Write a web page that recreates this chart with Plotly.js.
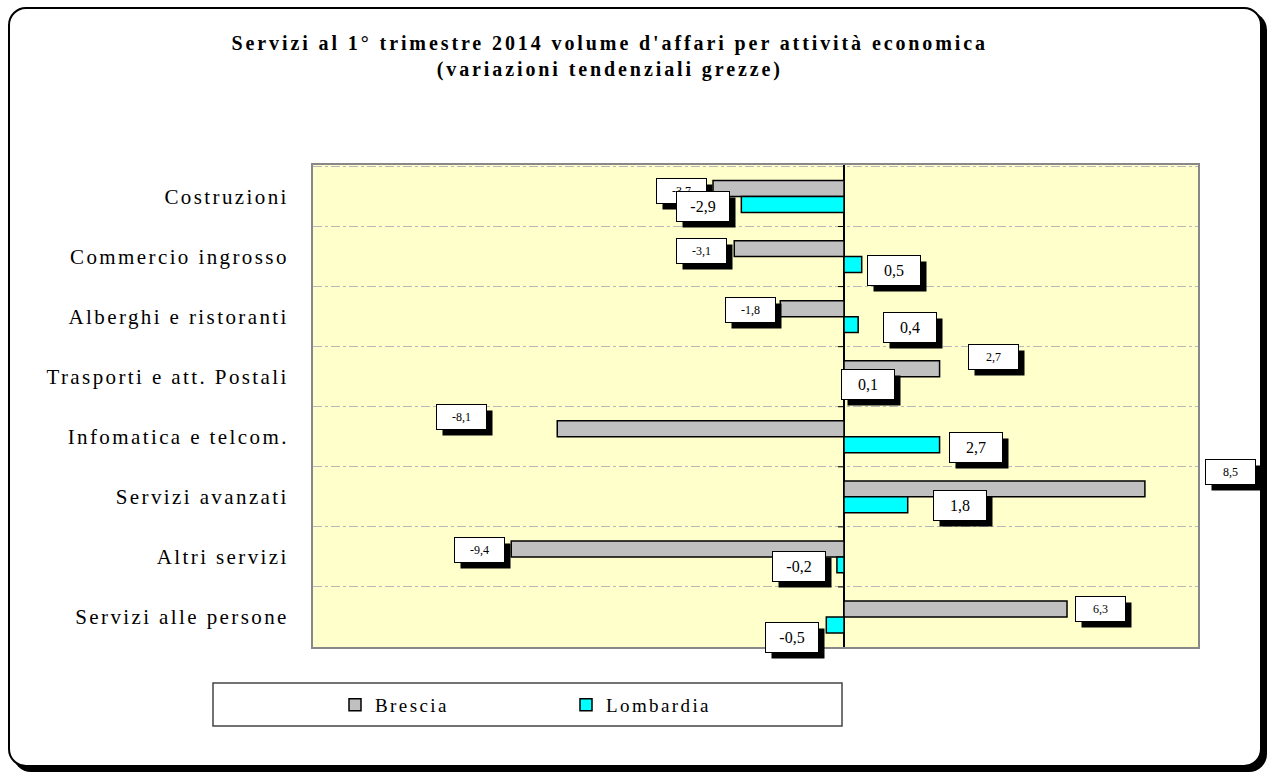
<!DOCTYPE html>
<html>
<head>
<meta charset="utf-8">
<script src="https://cdn.plot.ly/plotly-3.0.1.min.js"></script>
<style>
  html, body { margin: 0; padding: 0; background: #ffffff; }
  #frame { position: absolute; left: 8px; top: 7px; width: 1250px; height: 756px;
           border: 2px solid #000; border-radius: 18px; box-shadow: 5px 5px 0 #000; background: #fff; }
  #chart { position: absolute; left: 0; top: 0; width: 1273px; height: 774px; }
  #chart .ytick text { letter-spacing: 2.4px; }
  #chart .gtitle { letter-spacing: 2.9px; }
  #chart .legendtext { letter-spacing: 2.4px; }
</style>
</head>
<body>
<div id="frame"></div>
<div id="chart"></div>
<script>
// ---- data ----
const categories = ["Costruzioni", "Commercio ingrosso", "Alberghi e ristoranti", "Trasporti e att. Postali",
                    "Infomatica e telcom.", "Servizi avanzati", "Altri servizi", "Servizi alle persone"];
const brescia = [-3.7, -3.1, -1.8, 2.7, -8.1, 8.5, -9.4, 6.3];
const lombardia = [-2.9, 0.5, 0.4, 0.1, 2.7, 1.8, -0.2, -0.5];
const seriesNames = ["Brescia", "Lombardia"];

// ---- label placement (pixel offsets of label box centre from bar end / category centre) ----
const bresciaLabelOffsets = [[-32,-6],[-33,-6],[-30,-7],[54,-20],[-96,-20],[86,-25],[-32,-7],[33,-8]];
const lombardiaLabelOffsets = [[-38,10],[32,14],[52,11],[20,8],[36,11],[52,9],[-38,10],[-34,21]];

const W = 1273, H = 774;
const M = {l: 313, r: 75, t: 165, b: 127};
const pw = W - M.l - M.r, ph = H - M.t - M.b;
const px = x => (x - M.l) / pw;
const py = y => (H - M.b - y) / ph;

const fmt = v => v.toFixed(1).replace('.', ',');
const serif = "Liberation Serif, Times New Roman, serif";

const traces = [
  {type: 'bar', orientation: 'h', name: seriesNames[0], y: categories, x: brescia,
   marker: {color: '#c0c0c0', line: {color: '#000', width: 1.5}}, hoverinfo: 'x+y'},
  {type: 'bar', orientation: 'h', name: seriesNames[1], y: categories, x: lombardia,
   marker: {color: '#00ffff', line: {color: '#000', width: 1.5}}, hoverinfo: 'x+y'}
];

const annotations = [];
function addLabels(vals, offs, small) {
  vals.forEach((v, i) => {
    const [dx, dy] = offs[i];
    const w = small ? 47 : 50, h = small ? 22 : 27;
    const base = {x: v, y: categories[i], xref: 'x', yref: 'y', showarrow: false,
                  width: w, height: h, xanchor: 'center', yanchor: 'middle',
                  font: {family: serif, size: small ? 12 : 16, color: '#000'}};
    // drop shadow box (no text)
    annotations.push(Object.assign({}, base, {text: '\u00a0', xshift: dx + 6, yshift: -(dy + 6), bgcolor: '#000'}));
    // label box
    annotations.push(Object.assign({}, base, {text: fmt(v), xshift: dx, yshift: -dy, bgcolor: '#fff',
                                               bordercolor: '#000', borderwidth: 1}));
  });
}
addLabels(brescia, bresciaLabelOffsets, true);
addLabels(lombardia, lombardiaLabelOffsets, false);

// legend frame + small tick marks on the zero line at category boundaries
const shapes = [
  {type: 'rect', xref: 'paper', yref: 'paper', x0: px(213), x1: px(842), y0: py(683), y1: py(726),
   line: {color: '#444', width: 1.5}, fillcolor: '#fff', layer: 'below'}
];
for (let i = 0; i < categories.length - 1; i++) {
  shapes.push({type: 'line', xref: 'x', yref: 'y', xsizemode: 'pixel', xanchor: 0, x0: -6, x1: 0,
               y0: i + 0.5, y1: i + 0.5, line: {color: '#000', width: 1}});
}

const layout = {
  width: W, height: H,
  margin: M,
  paper_bgcolor: 'rgba(0,0,0,0)',
  plot_bgcolor: '#ffffcc',
  barmode: 'group', bargap: 0.47, bargroupgap: 0,
  title: {text: "Servizi al 1° trimestre 2014 volume d'affari per attività economica<br>(variazioni tendenziali grezze)",
          font: {family: serif, size: 20, color: '#000', weight: 'bold'},
          x: 0.479, xref: 'container', xanchor: 'center', y: 1 - 50 / H, yref: 'container', yanchor: 'top'},
  xaxis: {range: [-15, 10], showticklabels: false, showgrid: false, ticks: '',
          zeroline: true, zerolinecolor: '#000', zerolinewidth: 1.2,
          showline: true, mirror: true, linecolor: '#888', linewidth: 2, fixedrange: true},
  yaxis: {autorange: 'reversed', type: 'category', tickson: 'boundaries', ticks: '',
          showgrid: true, gridcolor: '#b8b8b8', griddash: 'dashdot', gridwidth: 1,
          showline: true, mirror: true, linecolor: '#888', linewidth: 2,
          ticklabelstandoff: 18,
          tickfont: {family: serif, size: 21, color: '#000'}, fixedrange: true},
  showlegend: true,
  legend: {orientation: 'h', x: px(335), xanchor: 'left', y: py(705), yanchor: 'middle',
           font: {family: serif, size: 19, color: '#000'}, bgcolor: 'rgba(0,0,0,0)',
           entrywidth: 186, entrywidthmode: 'pixels', traceorder: 'normal', itemclick: false},
  shapes: shapes,
  annotations: annotations
};

Plotly.newPlot('chart', traces, layout, {displayModeBar: false, staticPlot: true});
</script>
</body>
</html>
